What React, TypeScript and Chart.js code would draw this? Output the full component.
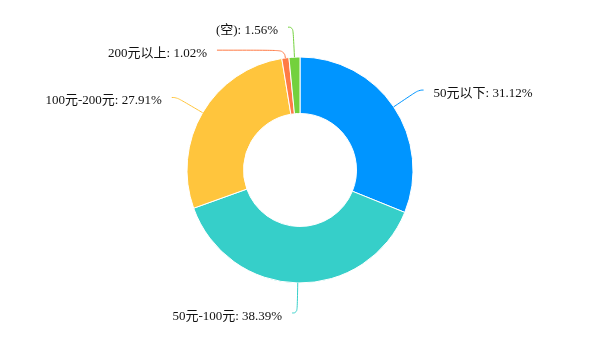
import React, { useEffect, useRef } from 'react';
import { Chart, registerables } from 'chart.js';

Chart.register(...registerables);

const categories = ['50元以下', '50元-100元', '100元-200元', '200元以上', '(空)'];
const percentages = [31.12, 38.39, 27.91, 1.02, 1.56];
const sliceColors = ['#0095ff', '#36cfc9', '#ffc53d', '#ff7a45', '#73d13d'];

const LINE_LEN = 30;
const LINE_LEN2 = 5;
const LABEL_GAP = 10;
const LABEL_HEIGHT = 23;
const SMOOTH = 0.5;
const TEXT_DY = 3.5;
const LABEL_FONT = '13px "Liberation Serif", "Noto Sans CJK SC", serif';

type Item = {
  color: string;
  text: string;
  cos: number;
  sin: number;
  side: number;
  R: number;
  r: number;
  x0: number;
  y0: number;
  x1: number;
  y1: number;
  x: number;
  y: number;
  shifted: boolean;
};

function adjustSide(list: Item[], cx: number, cy: number, side: number) {
  if (list.length < 2) return;
  list.sort((a, b) => a.y - b.y);
  let moved = false;
  for (let k = 1; k < list.length; k++) {
    const d = list[k - 1].y + LABEL_HEIGHT - list[k].y;
    if (d > 0) {
      list[k].y += d;
      list[k].shifted = true;
      moved = true;
    }
  }
  if (!moved) return;
  const semis = [list.filter((it) => it.y <= cy), list.filter((it) => it.y > cy)];
  for (const semi of semis) {
    if (!semi.length) continue;
    let rB = 0;
    let maxY = -1;
    for (const it of semi) {
      const dy = Math.abs(it.y - cy);
      if (dy >= maxY) {
        const dx = it.x - cx - LINE_LEN2 * side;
        rB = Math.abs(dx) < it.R ? Math.sqrt((dy * dy) / (1 - (dx * dx) / (it.R * it.R))) : it.R;
        maxY = dy;
      }
    }
    for (const it of semi) {
      const dy = Math.abs(it.y - cy);
      const dx = Math.sqrt(Math.max(0, 1 - (dy * dy) / (rB * rB))) * it.R;
      it.x = cx + side * (dx + LINE_LEN2);
    }
  }
}

function lerp(a: number[], b: number[], t: number) {
  return [a[0] + (b[0] - a[0]) * t, a[1] + (b[1] - a[1]) * t];
}

const outerLabels = {
  id: 'outerLabels',
  afterDatasetsDraw(chart: any) {
    const meta = chart.getDatasetMeta(0);
    const ctx: CanvasRenderingContext2D = chart.ctx;
    let cx = 0;
    let cy = 0;
    const items: Item[] = meta.data.map((arc: any, i: number) => {
      const p = arc.getProps(['x', 'y', 'startAngle', 'endAngle', 'outerRadius'], true);
      cx = p.x;
      cy = p.y;
      const mid = (p.startAngle + p.endAngle) / 2;
      const cos = Math.cos(mid);
      const sin = Math.sin(mid);
      const side = cos >= 0 ? 1 : -1;
      const R = p.outerRadius + LINE_LEN;
      const x1 = p.x + R * cos;
      const y1 = p.y + R * sin;
      return {
        color: sliceColors[i],
        text: `${categories[i]}: ${percentages[i].toFixed(2)}%`,
        cos,
        sin,
        side,
        R,
        r: p.outerRadius,
        x0: p.x + p.outerRadius * cos,
        y0: p.y + p.outerRadius * sin,
        x1,
        y1,
        x: x1 + side * LINE_LEN2,
        y: y1,
        shifted: false,
      };
    });
    adjustSide(items.filter((it) => it.side < 0), cx, cy, -1);
    adjustSide(items.filter((it) => it.side > 0), cx, cy, 1);

    ctx.save();
    for (const it of items) {
      let bend = [it.x1, it.y1];
      if (it.shifted) {
        const t = Math.abs(it.sin) > 1e-6 ? (it.y - cy) / it.sin : it.R;
        const tt = Math.max(t, it.r + 2);
        bend = [cx + tt * it.cos, it.y];
      }
      const pts = [[it.x0, it.y0], bend, [it.x, it.y]];
      ctx.beginPath();
      ctx.strokeStyle = it.color;
      ctx.lineWidth = 1;
      ctx.moveTo(pts[0][0], pts[0][1]);
      const l1 = Math.hypot(pts[1][0] - pts[0][0], pts[1][1] - pts[0][1]);
      const l2 = Math.hypot(pts[2][0] - pts[1][0], pts[2][1] - pts[1][1]);
      if (l1 > 0 && l2 > 0) {
        const m = Math.min(l1, l2) * SMOOTH;
        const m0 = lerp(pts[1], pts[0], m / l1);
        const m2 = lerp(pts[1], pts[2], m / l2);
        const m1 = lerp(m0, m2, 0.5);
        ctx.bezierCurveTo(m0[0], m0[1], m0[0], m0[1], m1[0], m1[1]);
        ctx.bezierCurveTo(m2[0], m2[1], m2[0], m2[1], pts[2][0], pts[2][1]);
      } else {
        ctx.lineTo(pts[1][0], pts[1][1]);
        ctx.lineTo(pts[2][0], pts[2][1]);
      }
      ctx.stroke();

      ctx.font = LABEL_FONT;
      ctx.fillStyle = '#111';
      ctx.textBaseline = 'middle';
      ctx.textAlign = it.side > 0 ? 'left' : 'right';
      ctx.fillText(it.text, it.x + it.side * LABEL_GAP, it.y + TEXT_DY);
    }
    ctx.restore();
  },
};

export default function App() {
  const canvasRef = useRef<HTMLCanvasElement | null>(null);

  useEffect(() => {
    if (!canvasRef.current) return;
    const chart = new Chart(canvasRef.current, {
      type: 'doughnut',
      data: {
        labels: categories,
        datasets: [
          {
            data: percentages,
            backgroundColor: sliceColors,
            borderColor: '#ffffff',
            borderWidth: 1,
            hoverOffset: 0,
            offset: 0,
          },
        ],
      },
      options: {
        responsive: false,
        animation: false,
        devicePixelRatio: 1,
        cutout: '50%',
        layout: { padding: { top: 56.5, bottom: 56.5, left: 0, right: 0 } },
        plugins: {
          legend: { display: false },
          tooltip: { enabled: false },
        },
      },
      plugins: [outerLabels],
    });
    return () => chart.destroy();
  }, []);

  return (
    <div style={{ position: 'absolute', left: 0, top: 0, width: 600, height: 340, background: '#fff' }}>
      <canvas ref={canvasRef} width={600} height={340} style={{ display: 'block' }} />
    </div>
  );
}
